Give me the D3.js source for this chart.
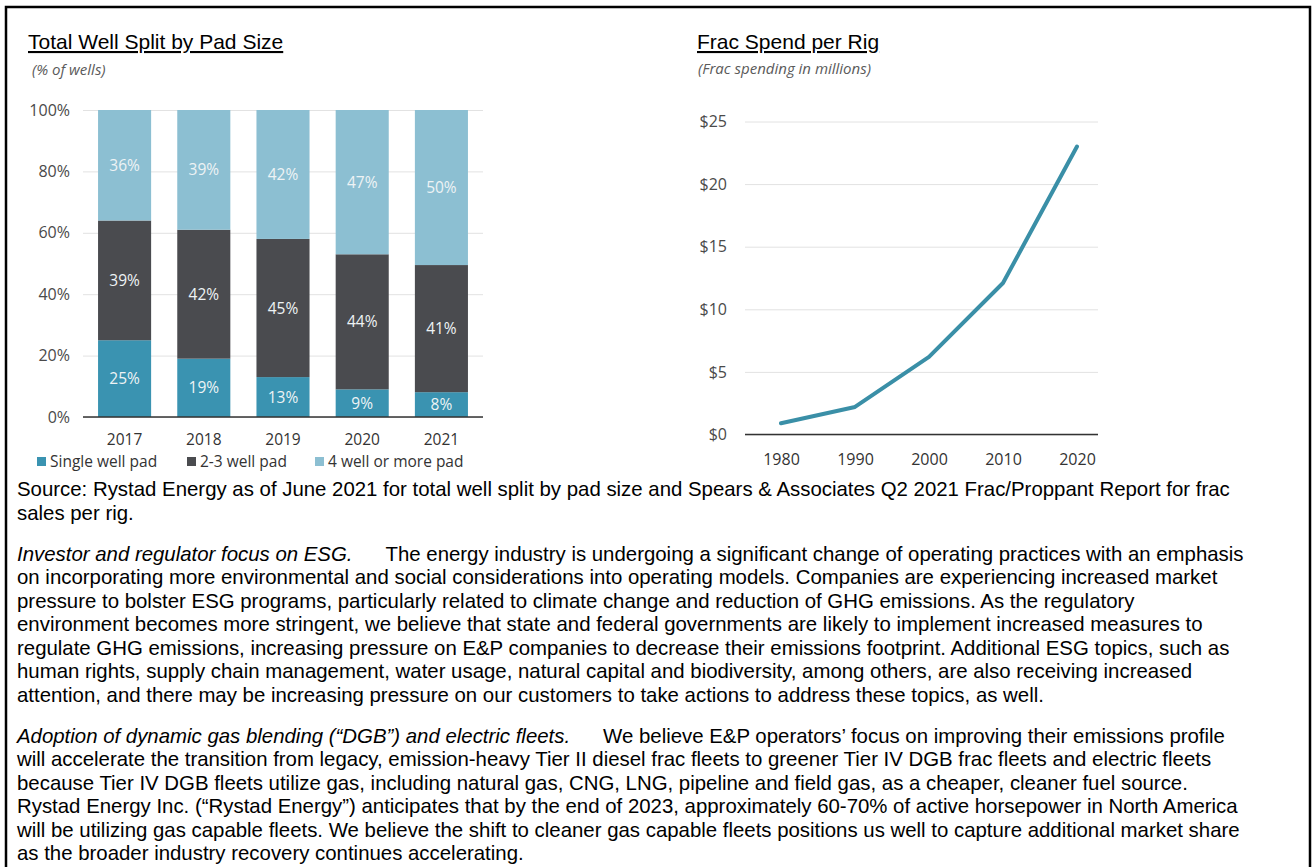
<!DOCTYPE html>
<html>
<head>
<meta charset="utf-8">
<script src="https://cdn.jsdelivr.net/npm/d3@7"></script>
<style>
  body { margin: 0; background: #fff; }
  svg { display: block; }
  .chart text { font-family: "Open Sans", sans-serif; }
  .chart .title { font-family: "Liberation Sans", Arial, sans-serif; font-size: 21px; text-decoration: underline; fill: #000; }
  .chart .subtitle { font-style: italic; font-size: 15px; fill: #5a5a5a; }
  .body-text { font-family: "Liberation Sans", Arial, sans-serif; font-size: 20.4px; fill: #000; }
</style>
</head>
<body>
<svg id="page" width="1312" height="867"></svg>
<script>
// left chart data (% of wells)
var years = ["2017", "2018", "2019", "2020", "2021"]
var singleWell = [25, 19, 13, 9, 8]
var twoThreeWell = [39, 42, 45, 44, 41]
var fourPlusWell = [36, 39, 42, 47, 50]
var pctTicks = [0, 20, 40, 60, 80, 100]
var padNames = ["Single well pad", "2-3 well pad", "4 well or more pad"]

// right chart data (frac spending, $ millions)
var decades = [1980, 1990, 2000, 2010, 2020]
var fracSpend = [0.9, 2.2, 6.2, 12.1, 23.0]
var dollarTicks = [0, 5, 10, 15, 20, 25]

var padColors = ["#3a93b1", "#4a4b4f", "#8cbfd2"]

var svg = d3.select("#page")

// page border (open at the bottom)
svg.append("path")
  .attr("d", "M6,870 V7 H1310 V870")
  .attr("fill", "none")
  .attr("stroke", "#000")
  .attr("stroke-width", 2.5)

// ---------- left: stacked bars ----------
var left = svg.append("g").attr("class", "chart")

left.append("text").attr("class", "title").attr("x", 28).attr("y", 49).text("Total Well Split by Pad Size")
left.append("text").attr("class", "subtitle").attr("x", 32).attr("y", 75).text("(% of wells)")

var rows = years.map(function(y, i) {
  return { year: y, s: singleWell[i], m: twoThreeWell[i], l: fourPlusWell[i] }
})
var keys = ["s", "m", "l"]
var stacked = d3.stack().keys(keys).offset(d3.stackOffsetExpand)(rows)

var x = d3.scaleBand().domain(years).range([83, 483]).paddingInner(0.33).paddingOuter(0.19)
var y = d3.scaleLinear().domain([0, 1]).range([417, 110])

var yAxis = left.append("g")
  .attr("transform", "translate(83,0)")
  .call(d3.axisLeft(y)
    .tickValues(pctTicks.map(function(d) { return d / 100 }))
    .tickFormat(d3.format(".0%"))
    .tickSize(-400)
    .tickPadding(13))
yAxis.select(".domain").remove()
yAxis.selectAll("line").attr("stroke", "#e2e2e2")
yAxis.selectAll("text").attr("font-size", 16).attr("fill", "#4a4a4a")

var layers = left.selectAll(".layer")
  .data(stacked)
  .enter().append("g")
  .attr("fill", function(d, i) { return padColors[i] })

layers.selectAll("rect")
  .data(function(d) { return d })
  .enter().append("rect")
  .attr("x", function(d) { return x(d.data.year) })
  .attr("width", x.bandwidth())
  .attr("y", function(d) { return y(d[1]) })
  .attr("height", function(d) { return y(d[0]) - y(d[1]) })

layers.selectAll("text")
  .data(function(d) { return d.map(function(p) { p.key = d.key; return p }) })
  .enter().append("text")
  .attr("x", function(d) { return x(d.data.year) + x.bandwidth() / 2 })
  .attr("y", function(d) { return (y(d[0]) + y(d[1])) / 2 })
  .attr("dy", "0.36em")
  .attr("text-anchor", "middle")
  .attr("font-size", 15.5)
  .attr("fill", "#eef3f5")
  .text(function(d) { return d.data[d.key] + "%" })

// zero line
left.append("line")
  .attr("x1", 83).attr("x2", 483)
  .attr("y1", y(0)).attr("y2", y(0))
  .attr("stroke", "#333").attr("stroke-width", 1.5)

var xAxis = left.append("g")
  .attr("transform", "translate(0," + y(0) + ")")
  .call(d3.axisBottom(x).tickSize(0).tickPadding(17))
xAxis.select(".domain").remove()
xAxis.selectAll("text").attr("font-size", 15.5).attr("fill", "#333")

// legend
var legendX = [37, 187, 315]
var legend = left.selectAll(".legend")
  .data(padNames)
  .enter().append("g")
  .attr("transform", function(d, i) { return "translate(" + legendX[i] + ",467)" })
legend.append("rect")
  .attr("x", 0).attr("y", -10).attr("width", 9).attr("height", 9)
  .attr("fill", function(d, i) { return padColors[i] })
legend.append("text")
  .attr("x", 13)
  .attr("font-size", 15.5)
  .attr("fill", "#333")
  .text(function(d) { return d })

// ---------- right: line chart ----------
var right = svg.append("g").attr("class", "chart")

right.append("text").attr("class", "title").attr("x", 697).attr("y", 49).text("Frac Spend per Rig")
right.append("text").attr("class", "subtitle").attr("x", 698).attr("y", 74).text("(Frac spending in millions)")

var x2 = d3.scaleLinear().domain([1980, 2020]).range([781, 1077])
var y2 = d3.scaleLinear().domain([0, 25]).range([434.5, 121.5])

var y2Axis = right.append("g")
  .attr("transform", "translate(745,0)")
  .call(d3.axisLeft(y2)
    .tickValues(dollarTicks)
    .tickFormat(function(d) { return "$" + d })
    .tickSize(-353)
    .tickPadding(18))
y2Axis.select(".domain").remove()
y2Axis.selectAll("line").attr("stroke", "#e2e2e2")
y2Axis.selectAll("text").attr("font-size", 16).attr("fill", "#4a4a4a")

right.append("line")
  .attr("x1", 745).attr("x2", 1098)
  .attr("y1", y2(0)).attr("y2", y2(0))
  .attr("stroke", "#333").attr("stroke-width", 1.5)

var x2Axis = right.append("g")
  .attr("transform", "translate(0," + y2(0) + ")")
  .call(d3.axisBottom(x2).tickValues(decades).tickFormat(d3.format("d")).tickSize(0).tickPadding(19))
x2Axis.select(".domain").remove()
x2Axis.selectAll("text").attr("font-size", 16).attr("fill", "#333")

var line = d3.line()
  .x(function(d, i) { return x2(decades[i]) })
  .y(function(d) { return y2(d) })

right.append("path")
  .datum(fracSpend)
  .attr("d", line)
  .attr("fill", "none")
  .attr("stroke", "#3a8fa7")
  .attr("stroke-width", 4)
  .attr("stroke-linejoin", "round")
  .attr("stroke-linecap", "round")

// ---------- text below ----------
var paragraphs = [
  { lead: null, lines: [
    "Source: Rystad Energy as of June 2021 for total well split by pad size and Spears & Associates Q2 2021 Frac/Proppant Report for frac",
    "sales per rig."
  ]},
  { lead: "Investor and regulator focus on ESG.", lines: [
    "The energy industry is undergoing a significant change of operating practices with an emphasis",
    "on incorporating more environmental and social considerations into operating models. Companies are experiencing increased market",
    "pressure to bolster ESG programs, particularly related to climate change and reduction of GHG emissions. As the regulatory",
    "environment becomes more stringent, we believe that state and federal governments are likely to implement increased measures to",
    "regulate GHG emissions, increasing pressure on E&P companies to decrease their emissions footprint. Additional ESG topics, such as",
    "human rights, supply chain management, water usage, natural capital and biodiversity, among others, are also receiving increased",
    "attention, and there may be increasing pressure on our customers to take actions to address these topics, as well."
  ]},
  { lead: "Adoption of dynamic gas blending (\u201cDGB\u201d) and electric fleets.", lines: [
    "We believe E&P operators\u2019 focus on improving their emissions profile",
    "will accelerate the transition from legacy, emission-heavy Tier II diesel frac fleets to greener Tier IV DGB frac fleets and electric fleets",
    "because Tier IV DGB fleets utilize gas, including natural gas, CNG, LNG, pipeline and field gas, as a cheaper, cleaner fuel source.",
    "Rystad Energy Inc. (\u201cRystad Energy\u201d) anticipates that by the end of 2023, approximately 60-70% of active horsepower in North America",
    "will be utilizing gas capable fleets. We believe the shift to cleaner gas capable fleets positions us well to capture additional market share",
    "as the broader industry recovery continues accelerating."
  ]}
]

var lineH = 23.5, paraGap = 17.5
var ty = 496
paragraphs.forEach(function(p) {
  p.lines.forEach(function(t, i) {
    var el = svg.append("text").attr("class", "body-text").attr("x", 17).attr("y", ty)
    if (i === 0 && p.lead) {
      el.append("tspan").attr("font-style", "italic").text(p.lead)
      el.append("tspan").attr("dx", 33).text(t)
    } else {
      el.text(t)
    }
    ty += lineH
  })
  ty += paraGap
})
</script>
</body>
</html>
